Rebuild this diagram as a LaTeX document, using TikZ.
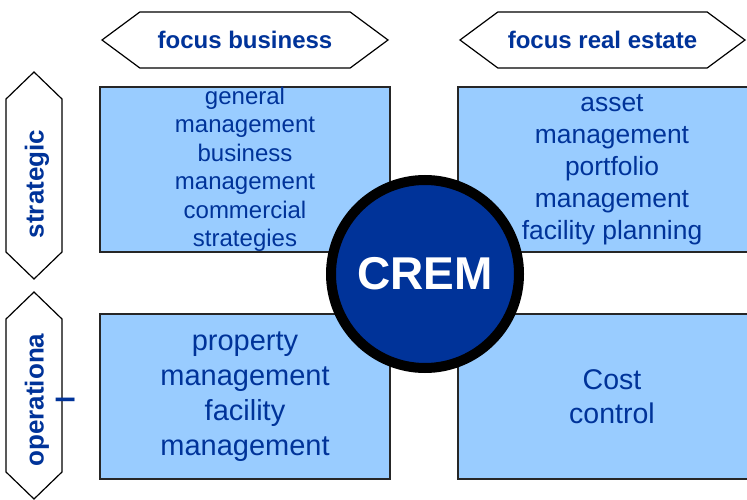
\documentclass[tikz,border=0pt]{standalone}
\usepackage{fontspec}
\setmainfont{Liberation Sans}
\usetikzlibrary{shapes.symbols,positioning}
\definecolor{cremblue}{RGB}{0,51,153}
\definecolor{boxblue}{RGB}{153,204,255}
\begin{document}
\begin{tikzpicture}[x=1pt, y=-1pt, node distance=2cm,
focus_tag/.style={draw, line width=1.2pt, fill=white, signal, signal to=west and east, signal pointer angle=73, minimum width=286pt, minimum height=56pt, inner sep=0pt, text=cremblue, font=\bfseries\fontsize{24}{28}\selectfont},
level_tag/.style={draw, line width=1.2pt, fill=white, signal, signal to=west and east, signal pointer angle=92, minimum width=207pt, minimum height=56pt, inner sep=0pt, rotate=90},
level_text/.style={rotate=90, anchor=north, align=center, inner sep=0pt, text=cremblue, font=\bfseries\fontsize{26}{31}\selectfont},
task_box/.style={draw=black!85, line width=1.2pt, fill=boxblue, text=cremblue, align=center, minimum width=290pt, minimum height=165pt, inner sep=0pt}]
    \useasboundingbox (0,0) rectangle (747,500);
    % Quadrants
    \node (GenMgmt) [task_box, font=\fontsize{24}{28.5}\selectfont] at (245,169.5) {general\\management\\business\\management\\commercial\\strategies};
    \node (AssetMgmt) [right of=GenMgmt, xshift=310.1pt, task_box, minimum width=308pt, font=\fontsize{26.4}{32}\selectfont] {asset\\management\\portfolio\\management\\facility planning};
    \node (PropMgmt) [task_box, font=\fontsize{29}{35}\selectfont] at (245,396.5) {property\\management\\facility\\management};
    \node (Cost) [right of=PropMgmt, xshift=310.1pt, task_box, minimum width=308pt, font=\fontsize{28.5}{34}\selectfont] {Cost\\control};

    % Centre
    \node (CREM) [circle, draw=black, line width=10pt, fill=cremblue, minimum size=188pt, inner sep=0pt, text=white, font=\bfseries\fontsize{46}{50}\selectfont] at (425,274) {CREM};

    % Headers
    \node (FocBus) [focus_tag] at (245,40) {focus business};
    \node (FocRE) [focus_tag, minimum width=285pt] at (602.5,40) {focus real estate};
    \node (Strat) [level_tag] at (34,175.5) {};
    \node (StratText) [level_text] at (24.5,184) {strategic};
    \node (Oper) [level_tag] at (34,395.5) {};
    \node (OperText) [level_text] at (24.5,400) {operationa\\l};
\end{tikzpicture}
\end{document}
